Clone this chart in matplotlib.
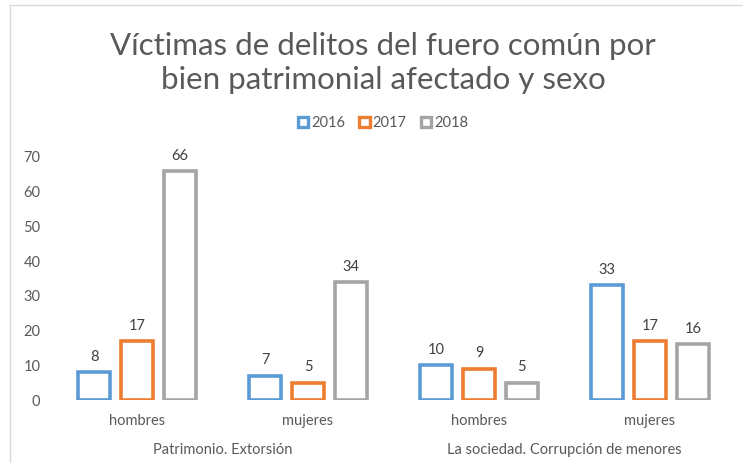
import matplotlib
matplotlib.use("Agg")
import matplotlib.pyplot as plt
from matplotlib.lines import Line2D
from matplotlib.patches import Patch
import numpy as np

plt.rcParams['font.family'] = ['Lato', 'DejaVu Sans']

sub_labels = ["hombres", "mujeres", "hombres", "mujeres"]
group_labels = ["Patrimonio. Extorsión", "La sociedad. Corrupción de menores"]
years = ["2016", "2017", "2018"]
v2016 = [8, 7, 10, 33]
v2017 = [17, 5, 9, 17]
v2018 = [66, 34, 5, 16]
series = [v2016, v2017, v2018]
colors = ["#5B9BD5", "#ED7D31", "#A5A5A5"]
title = "Víctimas de delitos del fuero común por\nbien patrimonial afectado y sexo"

W, H = 743, 463
fig = plt.figure(figsize=(W / 100, H / 100), dpi=100)
ax = fig.add_axes([51.5 / W, 63 / H, 684 / W, 243 / H])

x = np.arange(len(sub_labels))
bw = 0.185
offs = [-0.25, 0, 0.25]
txt = "#595959"
for vals, c, o, yr in zip(series, colors, offs, years):
    bars = ax.bar(x + o, vals, width=bw, facecolor="white", edgecolor=c, linewidth=2.6, label=yr)
    for b, v in zip(bars, vals):
        ax.annotate(str(v), (b.get_x() + b.get_width() / 2, v), xytext=(0, 6),
                    textcoords="offset points", ha="center", va="bottom",
                    fontsize=10.5, color="#404040")

ax.set_xlim(-0.5, 3.5)
ax.set_ylim(0, 70)
ax.set_yticks(range(0, 71, 10))
ax.tick_params(axis="y", length=0, labelsize=10.5, labelcolor=txt, pad=8)
ax.set_xticks(x)
ax.set_xticklabels(sub_labels)
ax.tick_params(axis="x", length=0, labelsize=10.5, labelcolor=txt, pad=10)
for s in ax.spines.values():
    s.set_visible(False)

for i, g in enumerate(group_labels):
    ax.text(0.5 + 2 * i, -0.205, g, transform=ax.get_xaxis_transform(),
            ha="center", va="center", fontsize=10.5, color=txt)

fig.text(383 / W, 1 - 63 / H, title, ha="center", va="center", fontsize=22.5,
         color="#595959", linespacing=1.25)

handles = [Patch(facecolor="white", edgecolor=c, linewidth=2.4, label=y) for c, y in zip(colors, years)]
fig.legend(handles=handles, loc="center", bbox_to_anchor=(383 / W, 1 - 123 / H), ncol=3,
           frameon=False, fontsize=10.5, labelcolor=txt, handlelength=0.7, handleheight=0.7,
           handletextpad=0.2, columnspacing=1.0)

fig.add_artist(Line2D([10 / W, 10 / W], [0, 1 - 5 / H], transform=fig.transFigure, color="#D9D9D9", linewidth=1))
fig.add_artist(Line2D([10 / W, 1], [1 - 5 / H, 1 - 5 / H], transform=fig.transFigure, color="#D9D9D9", linewidth=1))

fig.savefig("out.png", dpi=100, facecolor="white")
